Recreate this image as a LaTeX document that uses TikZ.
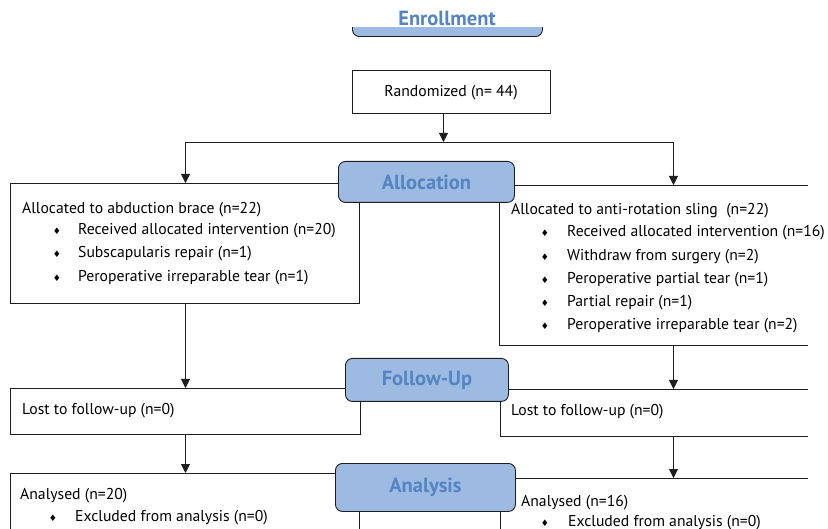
\documentclass[tikz,border=0pt]{standalone}
\usepackage{fontspec}
\setmainfont{PT Sans}
\newfontfamily\symfont{DejaVu Sans}
\usetikzlibrary{arrows.meta}
\definecolor{hdrfill}{RGB}{157,187,226}
\definecolor{hdrtext}{RGB}{84,132,193}
\definecolor{linec}{RGB}{30,30,30}
\tikzset{
 box/.style={draw=linec, line width=0.9pt, inner sep=0pt},
 openbox/.style={inner sep=0pt},
 hdr/.style={draw=linec, line width=0.9pt, fill=hdrfill, rounded corners=7pt, inner sep=0pt},
 hdrtxt/.style={text=hdrtext, inner sep=0pt, font=\fontsize{20.5}{24}\selectfont\bfseries},
 txt/.style={anchor=base west, inner sep=0pt, font=\fontsize{15.7}{18}\selectfont},
 bultxt/.style={anchor=base, inner sep=0pt, font=\symfont\fontsize{9}{10}\selectfont},
 conn/.style={draw=linec, line width=0.9pt},
 arr/.style={conn, -{Triangle[length=9pt,width=9pt]}},
}
\begin{document}
\begin{tikzpicture}[x=1pt,y=-1pt]
\useasboundingbox (0,0) rectangle (828,529);
\clip (0,0) rectangle (828,529);
% Enrollment header (mostly hidden)
\node[hdr, anchor=south west, minimum width=190pt, minimum height=60pt] (enroll) at (352,37) {};
\fill[white] (345,-5) rectangle (550,27);
\node[hdrtxt] (enrolltxt) at (447,18) {Enrollment};
% Randomized
\node[box, anchor=north west, minimum width=198pt, minimum height=43pt] (rand) at (352,70) {};
\node[inner sep=0pt, font=\fontsize{15.7}{18}\selectfont] (randtxt) at (451,93) {Randomized (n= 44)};
\coordinate (split) at (443.5,142);
\coordinate (lcol) at (185.5,142);
\coordinate (rcol) at (673.5,142);
% Allocation boxes
\node[box, anchor=north west, minimum width=349pt, minimum height=120pt] (allocL) at (10,183) {};
\node[openbox, anchor=north west, minimum width=309pt, minimum height=160pt] (allocR) at (499,185) {};
\draw[conn] (allocR.north east) -- (allocR.north west) -- (allocR.south west) -- (allocR.south east);
% Follow-up boxes
\node[box, anchor=north west, minimum width=350pt, minimum height=46pt] (fuL) at (10,388) {};
\node[openbox, anchor=north west, minimum width=308pt, minimum height=47pt] (fuR) at (500,389) {};
\draw[conn] (fuR.north east) -- (fuR.north west) -- (fuR.south west) -- (fuR.south east);
% Analysis boxes
\node[box, anchor=north west, minimum width=349pt, minimum height=100pt] (anL) at (10,473) {};
\node[openbox, anchor=north west, minimum width=308pt, minimum height=100pt] (anR) at (500,478) {};
\draw[conn] (anR.north east) -- (anR.north west) -- (anR.south west);
% connectors
\draw[arr] (rand.south -| split) -- (split);
\draw[conn] (lcol) -- (rcol);
\draw[arr] (lcol) -- (lcol |- allocL.north);
\draw[arr] (rcol) -- (rcol |- allocR.north);
\draw[arr] (lcol |- allocL.south) -- (lcol |- fuL.north);
\draw[arr] (rcol |- allocR.south) -- (rcol |- fuR.north);
\draw[arr] (lcol |- fuL.south) -- (lcol |- anL.north);
\draw[arr] (rcol |- fuR.south) -- (rcol |- anR.north);
% headers
\node[hdr, anchor=north west, minimum width=176pt, minimum height=41pt] (alloc) at (338,161) {};
\node[hdrtxt] (alloctxt) at (alloc.center) {Allocation};
\node[hdr, anchor=north west, minimum width=163pt, minimum height=43pt] (fu) at (345,358) {};
\node[hdrtxt] (futxt) at (fu.center) {Follow-Up};
\node[hdr, anchor=north west, minimum width=180pt, minimum height=48pt] (an) at (335,463) {};
\node[hdrtxt] (antxt) at (an.center) {Analysis};
% left allocation text
\node[txt] (l1) at (22,214) {Allocated to abduction brace (n=22)};
\node[bultxt] (lb1) at (57,235) {♦};
\node[txt] (l2) at (78,235) {Received allocated intervention (n=20)};
\node[bultxt] (lb2) at (57,258) {♦};
\node[txt] (l3) at (78,258) {Subscapularis repair (n=1)};
\node[bultxt] (lb3) at (57,282) {♦};
\node[txt] (l4) at (78,282) {Peroperative irreparable tear (n=1)};
% right allocation text
\node[txt] (r1) at (511,215) {Allocated to anti-rotation sling\ \ (n=22)};
\node[bultxt] (rb1) at (545,237) {♦};
\node[txt] (r2) at (567,237) {Received allocated intervention (n=16)};
\node[bultxt] (rb2) at (545,261) {♦};
\node[txt] (r3) at (567,261) {Withdraw from surgery (n=2)};
\node[bultxt] (rb3) at (545,284) {♦};
\node[txt] (r4) at (567,284) {Peroperative partial tear (n=1)};
\node[bultxt] (rb4) at (545,307) {♦};
\node[txt] (r5) at (567,307) {Partial repair (n=1)};
\node[bultxt] (rb5) at (545,330) {♦};
\node[txt] (r6) at (567,330) {Peroperative irreparable tear (n=2)};
% follow-up text
\node[txt] (fl) at (22,415) {Lost to follow-up (n=0)};
\node[txt] (fr) at (511,416) {Lost to follow-up (n=0)};
% analysis text
\node[txt] (al1) at (20,500) {Analysed (n=20)};
\node[bultxt] (alb) at (53,521) {♦};
\node[txt] (al2) at (75,521) {Excluded from analysis (n=0)};
\node[txt] (ar1) at (521,506) {Analysed (n=16)};
\node[bultxt] (arb) at (545,526) {♦};
\node[txt] (ar2) at (568,526) {Excluded from analysis (n=0)};
\end{tikzpicture}
\end{document}
